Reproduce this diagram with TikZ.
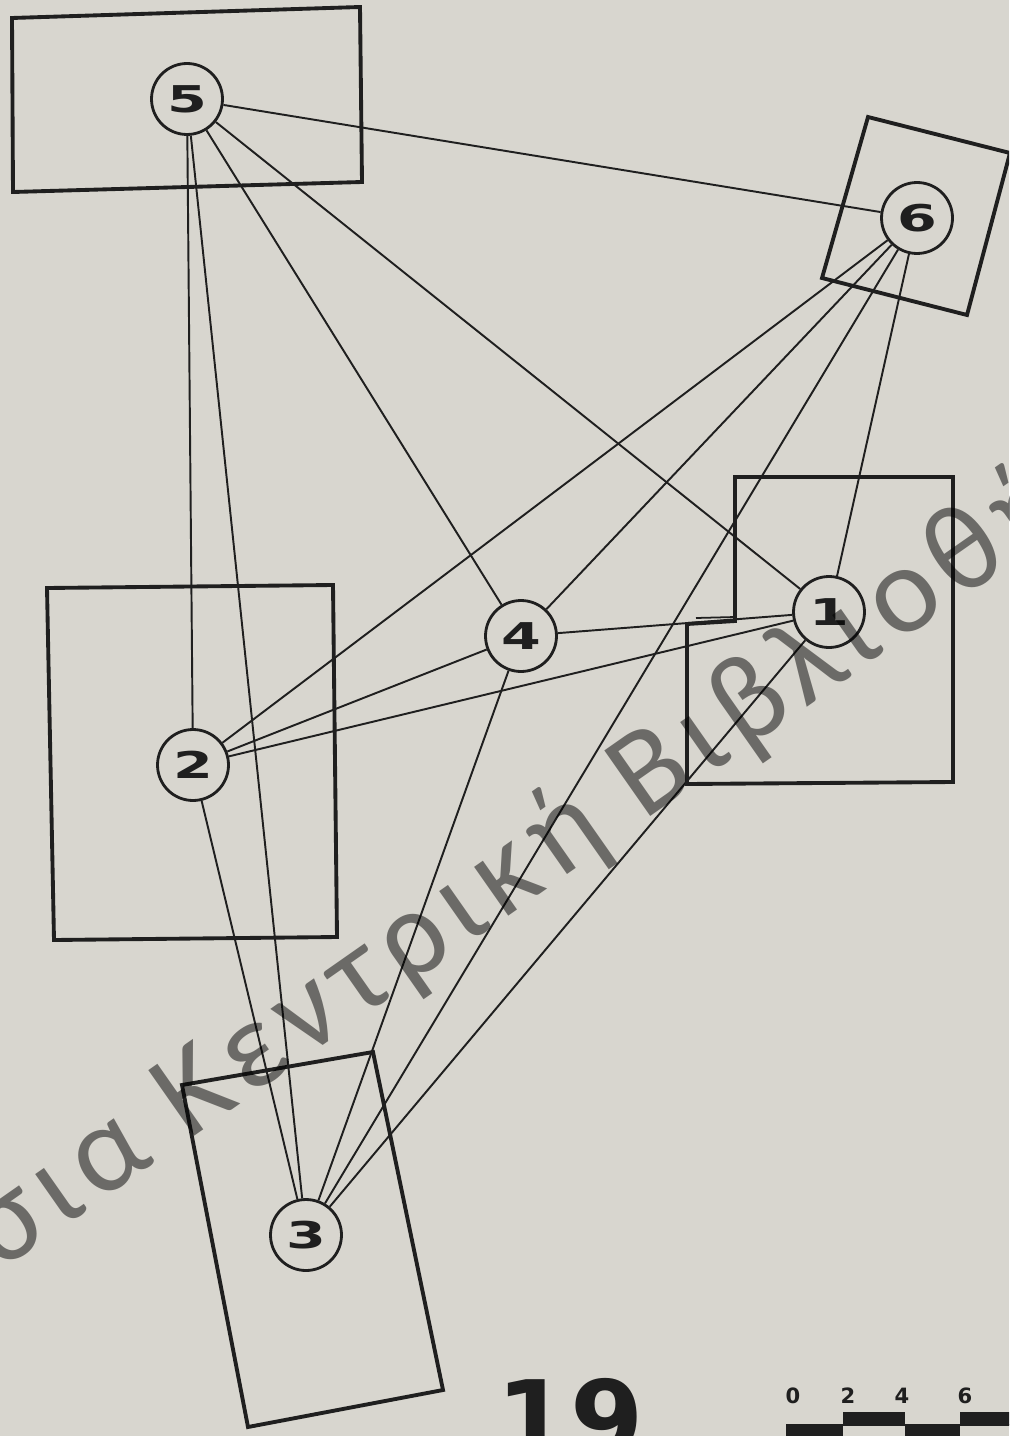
\documentclass[tikz,border=0pt]{standalone}
\usepackage{fontspec}
\usepackage{graphicx}
\newfontfamily\numfont{DejaVu Sans}
\newfontfamily\wmfont[LetterSpace=8]{Carlito}
\definecolor{paper}{HTML}{D8D6CF}
\definecolor{ink}{HTML}{1F1F1F}
\begin{document}
\begin{tikzpicture}[x=0.02cm,y=-0.02cm,
  station/.style={circle,draw=ink,line width=1.6pt,fill=paper,minimum size=1.42cm,inner sep=0pt,
    font=\numfont\bfseries\fontsize{21}{21}\selectfont,text=ink},
  link/.style={draw=ink,line width=1.1pt},
  zone/.style={draw=ink,line width=2.2pt,line join=miter},
  scalelabel/.style={font=\numfont\bfseries\fontsize{12}{12}\selectfont,text=ink,anchor=base,inner sep=0pt},
  watermark/.style={font=\wmfont\fontsize{71}{71}\selectfont,text=black,text opacity=0.5,inner sep=0pt}
]
\fill[paper] (0,0) rectangle (1009,1436);
\useasboundingbox (0,0) rectangle (1009,1436);
\clip (0,0) rectangle (1009,1436);

% zones
\draw[zone] (12,18) -- (360,7) -- (362,182) -- (13,192) -- cycle;
\draw[zone] (868,117) -- (1010,153) -- (967,315) -- (822,278) -- cycle;
\draw[zone] (735,477) -- (953,477) -- (953,782) -- (687,784) -- (687,624) -- (735,621) -- cycle;
\draw[ink,line width=1pt] (696,618) -- (735,617);
\draw[zone] (47,588) -- (333,585) -- (337,937) -- (54,940) -- cycle;
\draw[zone] (182,1085) -- (373,1052) -- (443,1390) -- (248,1427) -- cycle;

% stations
\node[station] (n5) at (187,99) {\scalebox{1.55}[1]{5}};
\node[station] (n6) at (917,218) {\scalebox{1.55}[1]{6}};
\node[station] (n1) at (829,612) {\scalebox{1.55}[1]{1}};
\node[station] (n4) at (521,636) {\scalebox{1.55}[1]{4}};
\node[station] (n2) at (193,765) {\scalebox{1.55}[1]{2}};
\node[station] (n3) at (306,1235) {\scalebox{1.55}[1]{3}};

% links (complete graph)
\foreach \a/\b in {n5/n6,n5/n2,n5/n3,n5/n4,n5/n1,
                   n6/n2,n6/n4,n6/n3,n6/n1,
                   n2/n4,n2/n1,n2/n3,
                   n4/n1,n4/n3,n1/n3}
  \draw[link] (\a) -- (\b);

% figure number
\node[font=\numfont\bfseries\fontsize{60}{60}\selectfont,text=ink,anchor=base,inner sep=0pt] (fig) at (570,1456) {19};

% scale bar
\node[scalelabel] (s0) at (793,1403) {0};
\node[scalelabel] (s2) at (848,1403) {2};
\node[scalelabel] (s4) at (902,1403) {4};
\node[scalelabel] (s6) at (965,1403) {6};
\fill[ink] (843,1412) rectangle (905,1425);
\fill[ink] (960,1412) rectangle (1012,1425);
\fill[ink] (787,1425) rectangle (843,1440);
\fill[ink] (905,1425) rectangle (960,1440);
\draw[ink,line width=1.6pt] (787,1425) rectangle (1015,1445);

% watermark
\node[watermark,rotate=35,anchor=base west] (wm) at (0,1272) {σια Κεντρική Βιβλιοθή};
\end{tikzpicture}
\end{document}
